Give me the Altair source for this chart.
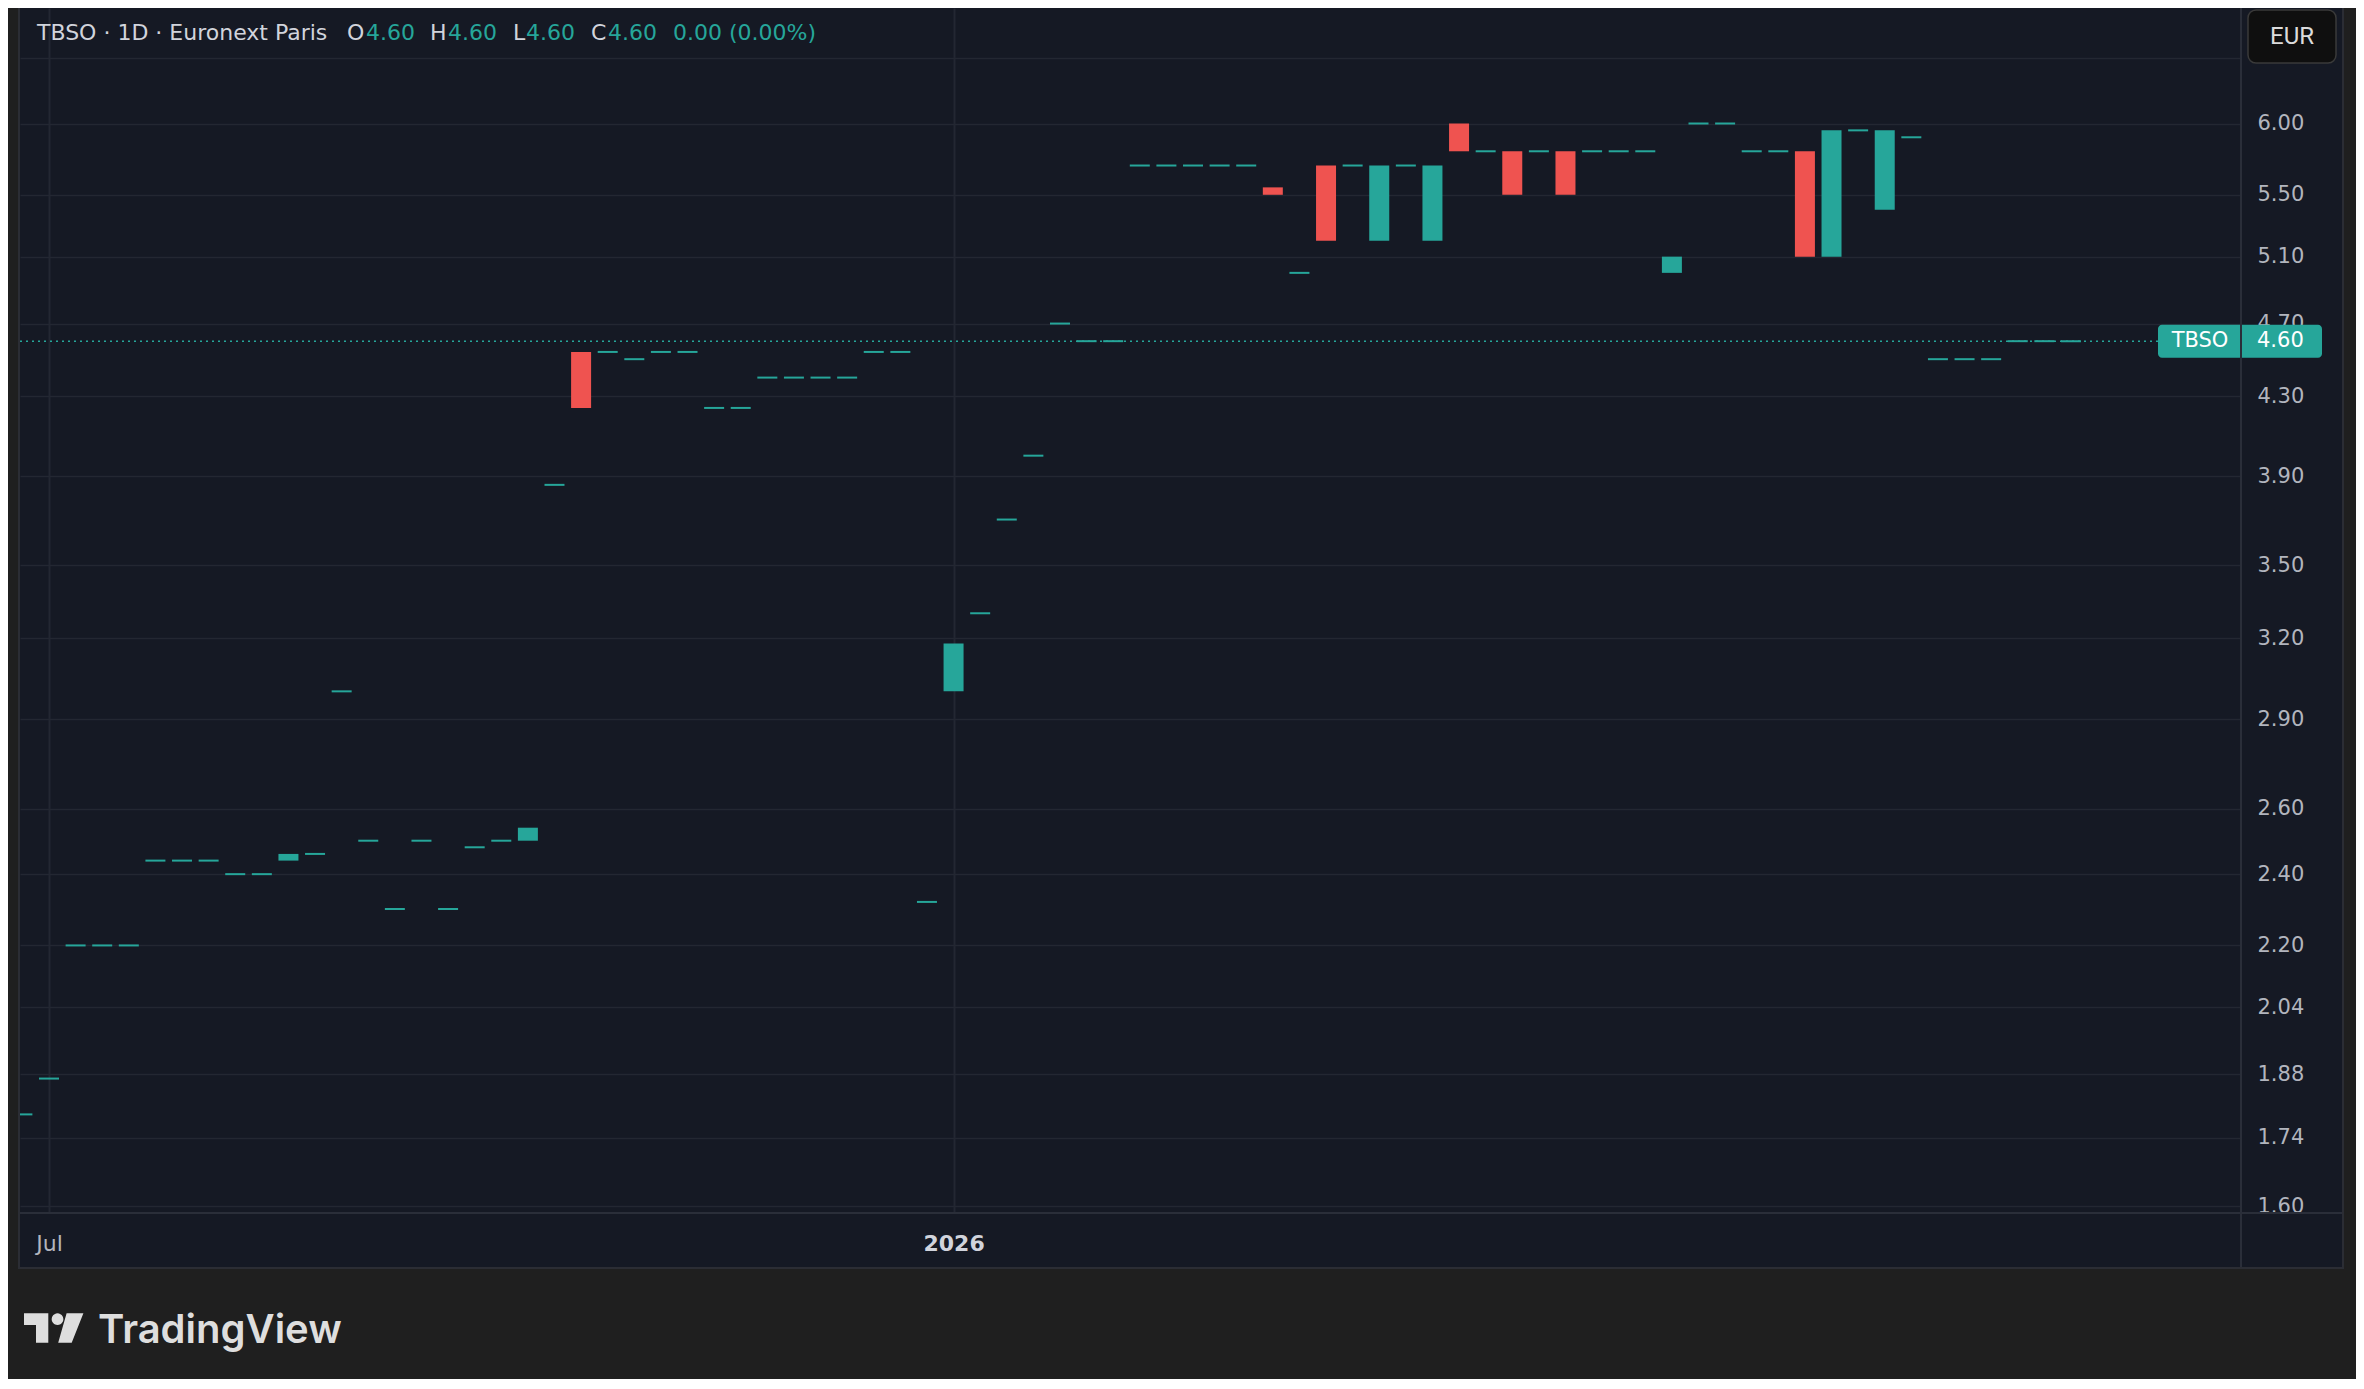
import math
import altair as alt
import pandas as pd

# ---------------- data ----------------
bar_index = list(range(1, 79))
open_prices = [
    1.79, 1.87, 2.20, 2.20, 2.20, 2.44, 2.44, 2.44, 2.40, 2.40,
    2.44, 2.46, 3.00, 2.50, 2.30, 2.50, 2.30, 2.48, 2.50, 2.50,
    3.86, 4.54, 4.54, 4.50, 4.54, 4.54, 4.24, 4.24, 4.40, 4.40,
    4.40, 4.40, 4.54, 4.54, 2.32, 3.00, 3.30, 3.70, 4.00, 4.70,
    4.60, 4.60, 5.70, 5.70, 5.70, 5.70, 5.70, 5.55, 5.00, 5.70,
    5.70, 5.20, 5.70, 5.20, 6.00, 5.80, 5.80, 5.80, 5.80, 5.80,
    5.80, 5.80, 5.00, 6.00, 6.00, 5.80, 5.80, 5.80, 5.10, 5.95,
    5.40, 5.90, 4.50, 4.50, 4.50, 4.60, 4.60, 4.60,
]
close_prices = [
    1.79, 1.87, 2.20, 2.20, 2.20, 2.44, 2.44, 2.44, 2.40, 2.40,
    2.46, 2.46, 3.00, 2.50, 2.30, 2.50, 2.30, 2.48, 2.50, 2.54,
    3.86, 4.24, 4.54, 4.50, 4.54, 4.54, 4.24, 4.24, 4.40, 4.40,
    4.40, 4.40, 4.54, 4.54, 2.32, 3.18, 3.30, 3.70, 4.00, 4.70,
    4.60, 4.60, 5.70, 5.70, 5.70, 5.70, 5.70, 5.50, 5.00, 5.20,
    5.70, 5.70, 5.70, 5.70, 5.80, 5.80, 5.50, 5.80, 5.50, 5.80,
    5.80, 5.80, 5.10, 6.00, 6.00, 5.80, 5.80, 5.10, 5.95, 5.95,
    5.95, 5.90, 4.50, 4.50, 4.50, 4.60, 4.60, 4.60,
]
price_ticks = [6.5, 6.0, 5.5, 5.1, 4.7, 4.3, 3.9, 3.5, 3.2, 2.9,
               2.6, 2.4, 2.2, 2.04, 1.88, 1.74, 1.6]
hidden_price_tick = 6.5
time_tick_index = [2, 36]
time_tick_labels = ["Jul", "2026"]
bold_time_label = "2026"

symbol = "TBSO"
title_text = "TBSO · 1D · Euronext Paris"
currency = "EUR"
brand = "TradingView"

# ---------------- style / layout ----------------
UP, DOWN = "#26a69a", "#ef5350"
PANEL, OUTER = "#151924", "#1f1f1f"
GRID, SEP, BORDER = "#232732", "#2a2e39", "#2b2d34"
TEXT, AXIS_TEXT = "#d1d4dc", "#b2b5be"
FONT = "DejaVu Sans"

W, H = 2221, 1205
PAD = {"left": 12, "top": 0, "right": 115, "bottom": 166}
X_DOMAIN = [0.910, 84.391]
Y_DOMAIN = [1.587, 6.9085]

xscale = alt.Scale(domain=X_DOMAIN, nice=False, zero=False, padding=0)
yscale = alt.Scale(type="log", domain=Y_DOMAIN, nice=False, padding=0)

df = pd.DataFrame({"idx": bar_index, "open": open_prices, "close": close_prices})
last_close = close_prices[-1]
last_open = open_prices[-1]
last_df = pd.DataFrame({
    "close": [last_close],
    "price": [f"{last_close:.2f}"],
    "sym": [symbol],
})
one = alt.Data(values=[{"k": 0}])

# ---------------- axes ----------------
label_map = " : ".join(
    f"datum.value == {v} ? '{t}'" for v, t in zip(time_tick_index, time_tick_labels)
) + " : ''"
bold_idx = time_tick_index[time_tick_labels.index(bold_time_label)]

x_axis = alt.Axis(
    orient="bottom", values=time_tick_index, title=None, domain=False,
    ticks=False, tickSize=0, labelPadding=30, labelBaseline="middle",
    labelAlign="center", labelFont=FONT, labelFontSize=22,
    labelColor={"condition": {"test": f"datum.value == {bold_idx}", "value": TEXT},
                "value": AXIS_TEXT},
    labelFontWeight={"condition": {"test": f"datum.value == {bold_idx}", "value": "bold"},
                     "value": "normal"},
    labelExpr=label_map, labelOverlap=False, labelFlush=False,
    grid=True, gridColor=GRID, gridWidth=2,
)
y_axis = alt.Axis(
    orient="right", values=price_ticks, title=None, domain=False,
    ticks=False, tickSize=0, labelPadding=16, labelAlign="left",
    labelBaseline="middle", labelFont=FONT, labelFontSize=21,
    labelColor=AXIS_TEXT, labelOverlap=False, labelFlush=False,
    labelExpr=f"datum.value == {hidden_price_tick} ? '' : format(datum.value, '.2f')",
    grid=True, gridColor=GRID, gridWidth=1.5,
)

def X(field):
    return alt.X(field, scale=xscale, axis=x_axis)

def Y(field):
    return alt.Y(field, scale=yscale, axis=y_axis)

# ---------------- helpers for decorations ----------------
def box(x0, x1, y0, y1, fill, **kw):
    return alt.Chart(one).mark_rect(fill=fill, **kw).encode(
        x=alt.value(x0), x2=alt.value(x1), y=alt.value(y0), y2=alt.value(y1))

def hline(y, x0, x1, color, w):
    return alt.Chart(one).mark_rule(color=color, strokeWidth=w).encode(
        x=alt.value(x0), x2=alt.value(x1), y=alt.value(y))

def vline(x, y0, y1, color, w):
    return alt.Chart(one).mark_rule(color=color, strokeWidth=w).encode(
        x=alt.value(x), y=alt.value(y0), y2=alt.value(y1))

def text(t, x, y, size, color, align="left", weight="normal", font=FONT,
         baseline="middle"):
    return alt.Chart(one).mark_text(
        align=align, baseline=baseline, fontSize=size, font=font,
        fontWeight=weight, color=color).encode(
        x=alt.value(x), y=alt.value(y), text=alt.value(t))

# ---------------- candles ----------------
bodies = alt.Chart(df).transform_filter(
    "datum.open != datum.close"
).transform_calculate(
    dir="datum.close > datum.open ? 'up' : 'down'"
).mark_bar(size=20, clip=True).encode(
    x=X("idx:Q"),
    y=Y("open:Q"),
    y2="close:Q",
    color=alt.Color("dir:N", scale=alt.Scale(domain=["up", "down"], range=[UP, DOWN]),
                    legend=None),
)
flats = alt.Chart(df).transform_filter(
    "datum.open == datum.close"
).mark_tick(orient="horizontal", size=20, thickness=2, color=UP, clip=True,
            opacity=1).encode(
    x=X("idx:Q"),
    y=Y("close:Q"),
)

# ---------------- last price line and label ----------------
price_line = alt.Chart(last_df).mark_rule(
    color=UP, strokeWidth=1.5, strokeDash=[2, 4], clip=True).encode(
    x=alt.value(0), x2=alt.value(2138), y=Y("close:Q"))
price_tag = alt.Chart(last_df).mark_bar(
    orient="horizontal", size=33, cornerRadius=4, color=UP).encode(
    x=alt.value(2138), x2=alt.value(2302), y=Y("close:Q"))
price_tag_sym = alt.Chart(last_df).mark_text(
    align="center", baseline="middle", font=FONT, fontSize=21, color="#ffffff").encode(
    x=alt.value(2180), y=Y("close:Q"), text="sym:N")
price_tag_val = alt.Chart(last_df).mark_text(
    align="left", baseline="middle", font=FONT, fontSize=21, color="#ffffff").encode(
    x=alt.value(2237), y=Y("close:Q"), text="price:N")

# ---------------- header legend ----------------
hi = max(last_open, last_close)
lo = min(last_open, last_close)
chg = close_prices[-1] - close_prices[-2]
pct = chg / close_prices[-2] * 100
header_parts = [
    (title_text, TEXT), ("O", TEXT), (f"{last_open:.2f}", UP),
    ("H", TEXT), (f"{hi:.2f}", UP), ("L", TEXT), (f"{lo:.2f}", UP),
    ("C", TEXT), (f"{last_close:.2f}", UP),
    (f"{chg:.2f} ({pct:.2f}%)", UP),
]
header_x = [17, 327, 346, 410, 428, 493, 506, 571, 588, 653]
header = [text(t, x, 25, 22, c) for (t, c), x in zip(header_parts, header_x)]

# ---------------- logo ----------------
def poly(points):
    return "M" + " L".join(f"{x:.3f},{y:.3f}" for x, y in points) + " Z"

circle_pts = [(0.117 + 0.195 * math.cos(2 * math.pi * k / 24),
               -0.293 + 0.195 * math.sin(2 * math.pi * k / 24)) for k in range(24)]
logo_path = " ".join([
    "M-1,-0.49 H-0.19 V0.49 H-0.6 V-0.1 H-1 Z",
    poly(circle_pts),
    "M0.42,-0.49 L0.98,-0.49 L0.59,0.49 L0.14,0.49 Z",
])
logo_icon = alt.Chart(one).mark_point(
    shape=logo_path, size=3600, filled=True, color="#dedede", strokeWidth=0,
    opacity=1).encode(x=alt.value(34), y=alt.value(1320))
logo_text = text(brand, 78, 1335, 40, "#dedede", weight=600, font="Inter",
                 baseline="alphabetic")

# ---------------- assemble ----------------
layers = [
    bodies, flats, price_line,
    # outer frame
    box(-12, -2, 0, 1261, OUTER),
    box(2324, 2336, 0, 1261, OUTER),
    box(-12, 2336, 1261, 1371, OUTER),
    # hide the part of the lowest price label that falls under the time scale
    box(2222, 2323, 1206, 1260, PANEL),
    price_tag,
    vline(2221, 0, 1261, SEP, 2),
    hline(1205, -2, 2324, SEP, 2),
    vline(-1, 0, 1261, BORDER, 2),
    vline(2323, 0, 1261, BORDER, 2),
    hline(1260, -2, 2324, BORDER, 2),
    price_tag_sym, price_tag_val,
    box(2228, 2316, 2, 55, "#0f0f0f", stroke="#3a3a3a", strokeWidth=1.5, cornerRadius=8),
    text(currency, 2272, 29, 24, "#dbdbdb", align="center", font="Roboto"),
    *header,
    logo_icon, logo_text,
]

chart = alt.layer(*layers).properties(
    width=W, height=H, padding=PAD,
    autosize=alt.AutoSizeParams(type="none"),
).configure(background=PANEL).configure_view(strokeWidth=0)

chart.save("out.html", embed_options={"renderer": "svg", "actions": False})
